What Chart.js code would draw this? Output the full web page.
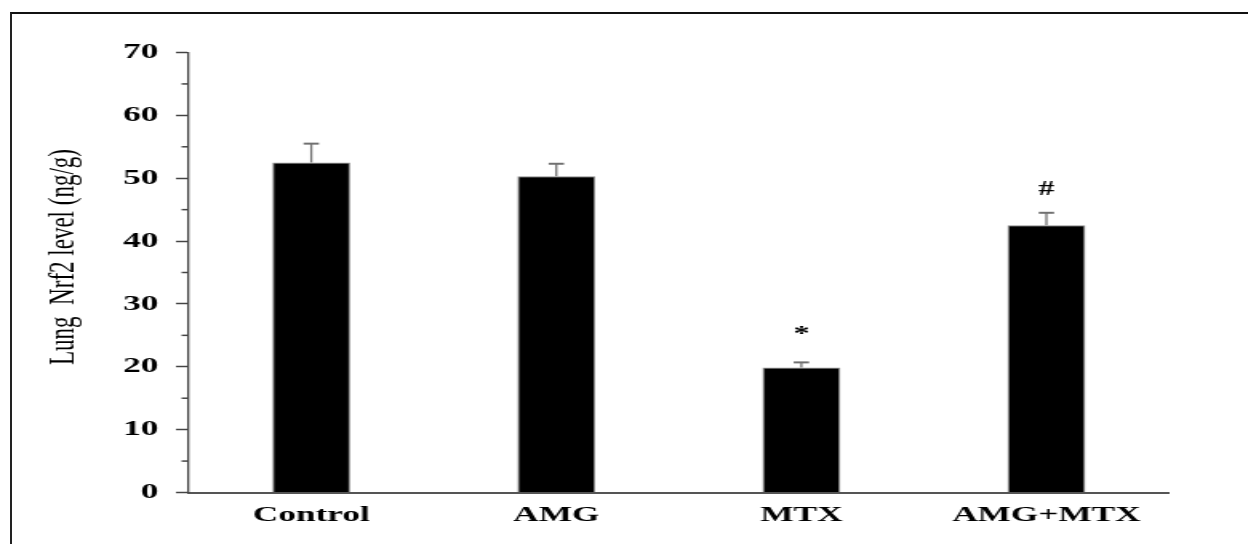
<!DOCTYPE html>
<html lang="en">
<head>
<meta charset="UTF-8">
<title>Lung Nrf2 level</title>
<script src="https://cdn.jsdelivr.net/npm/chart.js"></script>
<style>
  body { margin: 0; background: #fff; }
  #frame { position: absolute; left: 10px; top: 12px; width: 1238px; height: 532px;
           border-top: 2px solid #111; border-left: 2px solid #222; }
  #c { position: absolute; left: 0; top: 0; }
</style>
</head>
<body>
<div id="frame"></div>
<!-- the source figure is stretched sideways, so the canvas is too -->
<canvas id="c" width="780" height="544" style="width:1248px;height:544px"></canvas>
<script>
const groups = ["Control", "AMG", "MTX", "AMG+MTX"]
const nrf2 = [52.5, 50.3, 19.9, 42.5]
const sem = [3.0, 2.0, 0.8, 2.0]
const marks = ["", "", "*", "#"]
const yTicks = [0, 10, 20, 30, 40, 50, 60, 70]
const minorTicks = [5, 15, 25, 35, 45, 55, 65]
const yTitle = "Lung  Nrf2 level (ng/g)"

const serif = "'Liberation Serif', 'Times New Roman', serif"

const extras = {
  id: "extras",
  afterDatasetsDraw(chart) {
    const ctx = chart.ctx
    const y = chart.scales.y
    const meta = chart.getDatasetMeta(0)
    ctx.save()
    // error bars (upper half only)
    meta.data.forEach((bar, i) => {
      const top = y.getPixelForValue(nrf2[i] + sem[i])
      const base = y.getPixelForValue(nrf2[i])
      ctx.strokeStyle = "#707070"
      ctx.lineWidth = 1.3
      ctx.beginPath()
      ctx.moveTo(bar.x, base)
      ctx.lineTo(bar.x, top)
      ctx.stroke()
      ctx.lineWidth = 2
      ctx.beginPath()
      ctx.moveTo(bar.x - 4.8, top)
      ctx.lineTo(bar.x + 4.8, top)
      ctx.stroke()
      if (marks[i]) {
        ctx.fillStyle = "#000"
        ctx.font = "bold 20px " + serif
        ctx.textAlign = "center"
        ctx.textBaseline = "alphabetic"
        ctx.fillText(marks[i], bar.x, top - (marks[i] === "*" ? 22 : 18))
      }
    })
    // minor ticks on the y axis
    ctx.strokeStyle = "#444"
    ctx.lineWidth = 1.5
    minorTicks.forEach((v) => {
      const py = y.getPixelForValue(v)
      ctx.beginPath()
      ctx.moveTo(y.right - 4.5, py)
      ctx.lineTo(y.right, py)
      ctx.stroke()
    })
    // y axis title
    ctx.translate(39.5, 257)
    ctx.rotate(-Math.PI / 2)
    ctx.fillStyle = "#000"
    ctx.font = "23px " + serif
    ctx.textAlign = "center"
    ctx.textBaseline = "middle"
    ctx.fillText(yTitle, 0, 0)
    ctx.restore()
  },
}

new Chart(document.getElementById("c"), {
  type: "bar",
  data: {
    labels: groups,
    datasets: [
      {
        data: nrf2,
        backgroundColor: "#000",
        borderColor: "#8a8a8a",
        borderWidth: 1,
        barPercentage: 0.318,
        categoryPercentage: 1,
      },
    ],
  },
  options: {
    responsive: false,
    animation: false,
    devicePixelRatio: 1,
    layout: { padding: { top: 52.5, left: 16, right: 49.4, bottom: 0 } },
    plugins: { legend: { display: false }, tooltip: { enabled: false } },
    scales: {
      x: {
        grid: { drawOnChartArea: false, drawTicks: false },
        border: { color: "#555", width: 2 },
        ticks: { color: "#000", padding: 10, font: { family: serif, size: 22, weight: "bold" } },
        afterFit: (s) => { s.height = 51.5 },
      },
      y: {
        min: 0,
        max: 70,
        afterBuildTicks: (s) => { s.ticks = yTicks.map((v) => ({ value: v })) },
        grid: { drawOnChartArea: false, tickLength: 8, tickColor: "#444", tickWidth: 1.5 },
        border: { color: "#444", width: 1.3 },
        ticks: { color: "#000", padding: 11, font: { family: serif, size: 22, weight: "bold" } },
        afterFit: (s) => { s.width = 102 },
      },
    },
  },
  plugins: [extras],
})
</script>
</body>
</html>
